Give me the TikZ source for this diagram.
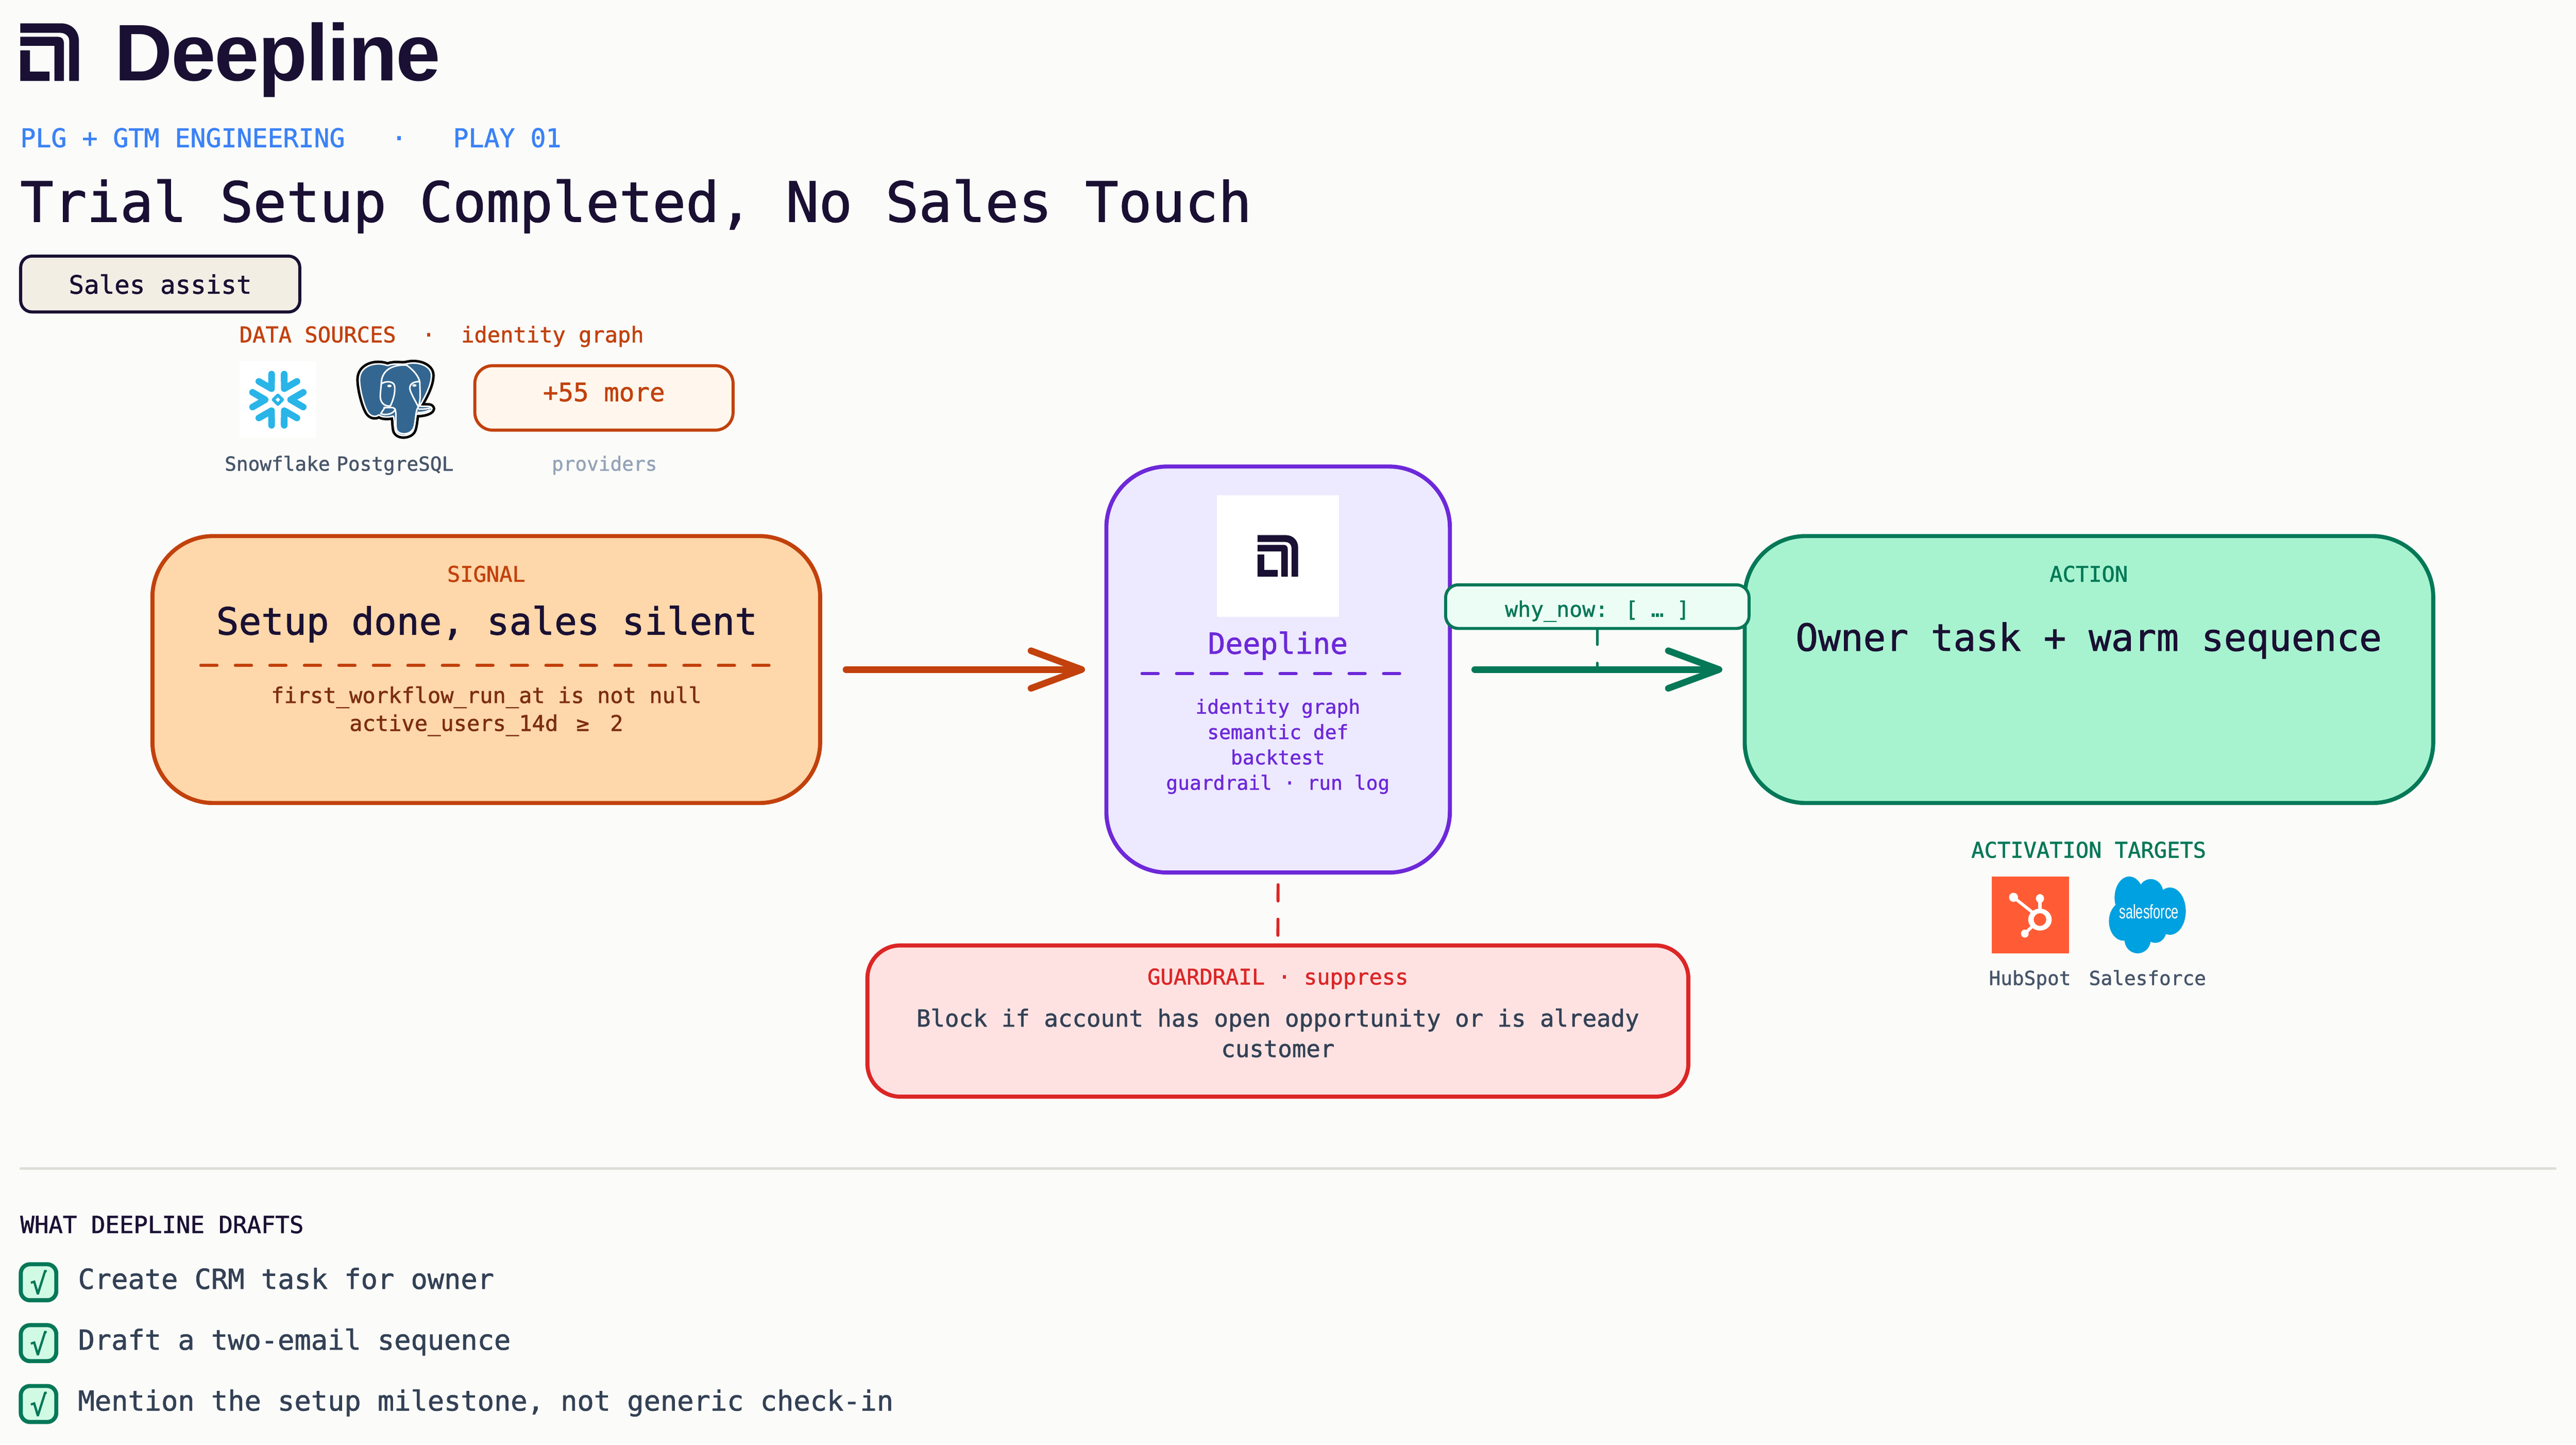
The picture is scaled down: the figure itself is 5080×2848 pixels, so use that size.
\documentclass[tikz,border=0pt]{standalone}
\usepackage{fontspec}
\setmainfont{DejaVu Sans Mono}[FakeBold=1.3]
\newfontfamily\brandfont[LetterSpace=-1.5]{Liberation Sans}
\newfontfamily\cloudfont{Liberation Sans}
\usetikzlibrary{arrows.meta}

\definecolor{Paper}{HTML}{FBFBF9}
\definecolor{Ink}{HTML}{1A1033}
\definecolor{SkyText}{HTML}{3B82F6}
\definecolor{Slate}{HTML}{475569}
\definecolor{SlateDark}{HTML}{334155}
\definecolor{SlateSoft}{HTML}{94A3B8}
\definecolor{Rust}{HTML}{C2410C}
\definecolor{RustDark}{HTML}{7C2D12}
\definecolor{RustFill}{HTML}{FED7AA}
\definecolor{RustPale}{HTML}{FFF7ED}
\definecolor{Violet}{HTML}{6D28D9}
\definecolor{VioletFill}{HTML}{EDE9FE}
\definecolor{Pine}{HTML}{047857}
\definecolor{PineFill}{HTML}{A7F3D0}
\definecolor{PinePale}{HTML}{ECFDF5}
\definecolor{PineCheck}{HTML}{D1FAE5}
\definecolor{Alarm}{HTML}{DC2626}
\definecolor{AlarmFill}{HTML}{FEE2E2}
\definecolor{Sand}{HTML}{F3EEE4}
\definecolor{Hairline}{HTML}{DDDDD8}
\definecolor{SnowBlue}{HTML}{29B5E8}
\definecolor{PgBlue}{HTML}{336791}
\definecolor{HubOrange}{HTML}{FF5C35}
\definecolor{ForceBlue}{HTML}{00A1E0}

\newcommand{\fsize}[1]{\fontsize{#1}{#1}\selectfont}

\tikzset{
    txt/.style={inner sep=0pt, outer sep=0pt, anchor=base},
    txt left/.style={txt, anchor=base west},
    big box/.style={draw, line width=.08cm, rounded corners=1.2cm, inner sep=0pt, outer sep=0pt},
    small box/.style={draw, line width=.06cm, inner sep=0pt, outer sep=0pt},
    rule dash/.style={line width=.06cm, line cap=round, dash pattern=on .32cm off .36cm},
    link dash/.style={rule dash},
    flow arrow/.style={line width=.13cm, line cap=round,
        -{Straight Barb[length=1cm, width=.74cm, round]}},
    check box/.style={draw=Pine, fill=PineCheck, line width=.08cm, rounded corners=.18cm,
        minimum width=.7cm, minimum height=.71cm, inner sep=0pt, outer sep=0pt,
        text=Pine, font=\fsize{16}},
    dlogo/.pic={
        \fill[Ink] (0,0) -- (240,0) .. controls (305,0) and (347,45) .. (347,103) -- (347,341)
            -- (290,341) -- (290,103) .. controls (290,75) and (265,56) .. (235,56) -- (0,56) -- cycle;
        \fill[Ink] (0,80) -- (225,80) .. controls (245,80) and (258,95) .. (258,113) -- (258,341)
            -- (202,341) -- (202,133) -- (0,133) -- cycle;
        \fill[Ink] (0,160) -- (57,160) -- (57,286) -- (173,286) -- (173,341) -- (0,341) -- cycle;
    },
}

\begin{document}
\begin{tikzpicture}[x=.01cm, y=-.01cm]

\fill[Paper] (0,0) rectangle (5080,2848);
\useasboundingbox (0,0) rectangle (5080,2848);

% Encabezado
\begin{scope}[shift={(40,46)}, x=.00333cm, y=-.00333cm]
\pic {dlogo};
\end{scope}
\node[txt left, text=Ink, font=\brandfont\bfseries\fsize{45}] (brand) at (226,159) {Deepline};
\node[txt left, text=SkyText, font=\fsize{14.4}] (kicker) at (40,290)
    {PLG + GTM ENGINEERING\ \ \ ·\ \ \ PLAY 01};
\node[txt left, text=Ink, font=\fsize{31}] (title) at (40,437)
    {Trial Setup Completed, No Sales Touch};

\node[small box, draw=Ink, fill=Sand, rounded corners=.22cm,
    minimum width=5.5cm, minimum height=1.1cm] (assist) at (316,560) {};
\node[txt, text=Ink, font=\fsize{14.2}] (assisttext) at (316,579) {Sales assist};

% Fuentes de datos
\node[txt, text=Rust, font=\fsize{12.15}] (sources) at (871,675)
    {DATA SOURCES\ \ ·\ \ identity graph};
\node[fill=white, minimum size=1.52cm, inner sep=0pt] (snowbox) at (548,788) {};
\begin{scope}[shift={(548,788)}]
\foreach \a in {0,60,...,300} {
    \draw[SnowBlue, line width=.13cm, line cap=round, line join=round, rotate=\a]
        (50,-14.5) -- (25,0) -- (50,14.5);
}
\draw[SnowBlue, line width=.06cm, line join=round] (9,0) -- (0,9) -- (-9,0) -- (0,-9) -- cycle;
\end{scope}

% Elefante
\begin{scope}[shift={(400,680)}, x=.00357cm, y=-.00333cm]
\def\pgshape{(1020,122) .. controls (1060,105) and (1100,120) .. (1125,112)
    .. controls (1190,95) and (1262,125) .. (1262,180)
    .. controls (1262,240) and (1225,310) .. (1197,362)
    .. controls (1225,368) and (1262,355) .. (1265,378)
    .. controls (1262,400) and (1215,412) .. (1178,410)
    .. controls (1172,450) and (1170,490) .. (1160,510)
    .. controls (1145,540) and (1085,550) .. (1065,515)
    .. controls (1055,490) and (1060,450) .. (1052,422)
    .. controls (1025,430) and (990,430) .. (972,415)
    .. controls (960,425) and (935,430) .. (915,405)
    .. controls (890,370) and (865,260) .. (865,205)
    .. controls (865,125) and (950,95) .. (1020,122) -- cycle}
\draw[black, line width=.13cm, line join=round] \pgshape;
\fill[PgBlue] \pgshape;
\draw[white, line width=.03cm, line join=round] \pgshape;
\draw[white, line width=.03cm, line join=round, line cap=round]
    (1125,120) .. controls (1165,150) and (1195,190) .. (1198,225)
    .. controls (1198,280) and (1205,320) .. (1190,368)
    .. controls (1170,390) and (1178,470) .. (1160,500)
    .. controls (1140,535) and (1085,535) .. (1070,505)
    .. controls (1060,470) and (1072,400) .. (1060,378)
    .. controls (1050,365) and (1025,375) .. (1000,370);
\draw[white, line width=.03cm, line join=round, line cap=round]
    (1125,120) .. controls (1060,115) and (985,140) .. (985,232)
    .. controls (1000,215) and (1050,210) .. (1058,240)
    .. controls (1065,280) and (1050,330) .. (1035,362)
    .. controls (1000,365) and (975,340) .. (980,290) -- (985,232);
\draw[white, line width=.03cm, line join=round, line cap=round]
    (1198,218) .. controls (1160,215) and (1135,235) .. (1145,270)
    .. controls (1155,300) and (1175,335) .. (1190,368);
\draw[white, line width=.03cm, line join=round]
    (1005,370) -- (982,408) .. controls (1010,418) and (1050,410) .. (1060,385);
\draw[white, line width=.03cm, line join=round]
    (1190,380) .. controls (1220,382) and (1240,378) .. (1262,372);
\draw[white, line width=.03cm]
    (1185,400) .. controls (1210,402) and (1235,395) .. (1255,385);
\fill[white] (1030,243) ellipse [x radius=12, y radius=8];
\fill[white] (1168,240) ellipse [x radius=12, y radius=8];
\end{scope}

\node[small box, draw=Rust, fill=RustPale, rounded corners=.35cm,
    minimum width=5.09cm, minimum height=1.27cm] (more) at (1191,784.5) {};
\node[txt, text=Rust, font=\fsize{14.2}] (moretext) at (1191,791) {+55 more};
\node[txt, text=Slate, font=\fsize{10.9}] (snowlabel) at (547,928) {Snowflake};
\node[txt, text=Slate, font=\fsize{10.9}] (pglabel) at (779,928) {PostgreSQL};
\node[txt, text=SlateSoft, font=\fsize{10.9}] (morelabel) at (1192,928) {providers};

% Cajas principales
\node[big box, draw=Rust, fill=RustFill, minimum width=13.16cm, minimum height=5.26cm]
    (signal) at (959,1320) {};
\node[big box, draw=Violet, fill=VioletFill, minimum width=6.77cm, minimum height=8cm]
    (engine) at (2520.5,1320) {};
\node[big box, draw=Pine, fill=PineFill, minimum width=13.57cm, minimum height=5.26cm]
    (action) at (4119.5,1320) {};
\node[big box, draw=Alarm, fill=AlarmFill, rounded corners=.65cm,
    minimum width=16.18cm, minimum height=2.98cm] (guardrail) at (2520,2013) {};

% Textos de SIGNAL
\node[txt, text=Rust, font=\fsize{12.15}] (signaltag) at (959,1147) {SIGNAL};
\node[txt, text=Ink, font=\fsize{21}] (signalname) at (960,1251) {Setup done, sales silent};
\coordinate (signalruleA) at (396,1312);
\coordinate (signalruleB) at (1523,1312);
\draw[rule dash, Rust] (signalruleA) -- (signalruleB);
\node[txt, text=RustDark, font=\fsize{12.15}] (signalone) at (959,1386)
    {first\_workflow\_run\_at is not null};
\node[txt, text=RustDark, font=\fsize{12.15}] (signaltwo) at (959,1441)
    {active\_users\_14d\hspace{.84em}≥\hspace{.96em}2};

% Textos del motor
\node[fill=white, minimum width=2.4cm, minimum height=2.4cm, inner sep=0pt] (logobox) at (2520,1096) {};
\begin{scope}[shift={(2480,1055)}, x=.00231cm, y=-.0024cm]
\pic {dlogo};
\end{scope}
\node[txt, text=Violet, font=\fsize{16.3}] (enginename) at (2520,1289) {Deepline};
\coordinate (engineruleA) at (2252,1328);
\coordinate (engineruleB) at (2763,1328);
\draw[rule dash, Violet] (engineruleA) -- (engineruleB);
\node[txt, text=Violet, font=\fsize{10.96}] (engineone) at (2520,1407) {identity graph};
\node[txt, text=Violet, font=\fsize{10.96}] (enginetwo) at (2520,1457) {semantic def};
\node[txt, text=Violet, font=\fsize{10.96}] (enginethree) at (2520,1507) {backtest};
\node[txt, text=Violet, font=\fsize{10.96}] (enginefour) at (2520,1557) {guardrail · run log};

% Textos de ACTION
\node[txt, text=Pine, font=\fsize{12.15}] (actiontag) at (4119,1147) {ACTION};
\node[txt, text=Ink, font=\fsize{21}] (actionname) at (4119,1283) {Owner task + warm sequence};

% Textos de GUARDRAIL
\node[txt, text=Alarm, font=\fsize{12.15}] (guardtag) at (2520,1941) {GUARDRAIL · suppress};
\node[txt, text=SlateDark, font=\fsize{13.2}] (guardone) at (2520,2024)
    {Block if account has open opportunity or is already};
\node[txt, text=SlateDark, font=\fsize{13.2}] (guardtwo) at (2520,2084) {customer};

% Flechas
\draw[flow arrow, Rust, shorten <=.51cm, shorten >=.42cm] (signal.east) -- (engine.west);
\draw[flow arrow, Pine, shorten <=.49cm, shorten >=.44cm] (engine.east) --
    coordinate[midway] (flowmid) (action.west);
\draw[rule dash, Alarm, shorten <=.24cm, shorten >=.2cm] (engine.south) -- (guardrail.north);

\node[small box, draw=Pine, fill=PinePale, rounded corners=.25cm,
    minimum width=5.98cm, minimum height=.86cm] (whynow) at (3150,1196) {};
\node[txt, text=Pine, font=\fsize{12}] (whynowtext) at (3150,1216) {why\_now: [ … ]};
\draw[link dash, Pine, line width=.05cm] (whynow.south) -- (flowmid);

% Destinos
\node[txt, text=Pine, font=\fsize{12.15}] (targets) at (4119,1691) {ACTIVATION TARGETS};
\node[fill=HubOrange, minimum size=1.52cm, inner sep=0pt] (hubspot) at (4004,1804) {};
\begin{scope}[shift={(3800,1600)}, x=.00446cm, y=-.00333cm]
\draw[white, line width=.06cm] (383,508) -- (465,595);
\draw[white, line width=.07cm] (500,515) -- (500,590);
\draw[white, line width=.06cm] (433,723) -- (470,675);
\fill[white, even odd rule] (500,640) ellipse [x radius=52, y radius=65]
    (500,640) ellipse [x radius=28, y radius=38];
\fill[white] (383,508) ellipse [x radius=20, y radius=27];
\fill[white] (500,515) ellipse [x radius=18, y radius=26];
\fill[white] (433,723) ellipse [x radius=17, y radius=24];

\fill[ForceBlue] (895,510) ellipse [x radius=65, y radius=125];
\fill[ForceBlue] (990,480) ellipse [x radius=55, y radius=80];
\fill[ForceBlue] (1075,590) ellipse [x radius=70, y radius=140];
\fill[ForceBlue] (1010,700) ellipse [x radius=50, y radius=78];
\fill[ForceBlue] (932,760) ellipse [x radius=58, y radius=80];
\fill[ForceBlue] (870,650) ellipse [x radius=65, y radius=115];
\fill[ForceBlue] (970,610) ellipse [x radius=100, y radius=130];
\end{scope}
\node[txt, text=white, xscale=.665, font=\cloudfont\fsize{11}] (forceword) at (4238,1811) {salesforce};
\node[txt, text=Slate, font=\fsize{10.9}] (hublabel) at (4003,1942) {HubSpot};
\node[txt, text=Slate, font=\fsize{10.9}] (forcelabel) at (4235,1942) {Salesforce};

% Lista final
\coordinate (ruleA) at (39,2304);
\coordinate (ruleB) at (5041,2304);
\draw[Hairline, line width=.05cm] (ruleA) -- (ruleB);
\node[txt left, text=Ink, font=\fsize{13.2}] (drafts) at (40,2431) {WHAT DEEPLINE DRAFTS};

\foreach \i/\y/\t in {1/2528/{Create CRM task for owner},
        2/2648/{Draft a two-email sequence},
        3/2768/{Mention the setup milestone, not generic check-in}} {
    \node[check box] (check\i) at (76,\y) {√};
    \node[txt left, text=SlateDark, font=\fsize{15.5}] (item\i) at (154,\y+13) {\t};
}

\end{tikzpicture}
\end{document}
